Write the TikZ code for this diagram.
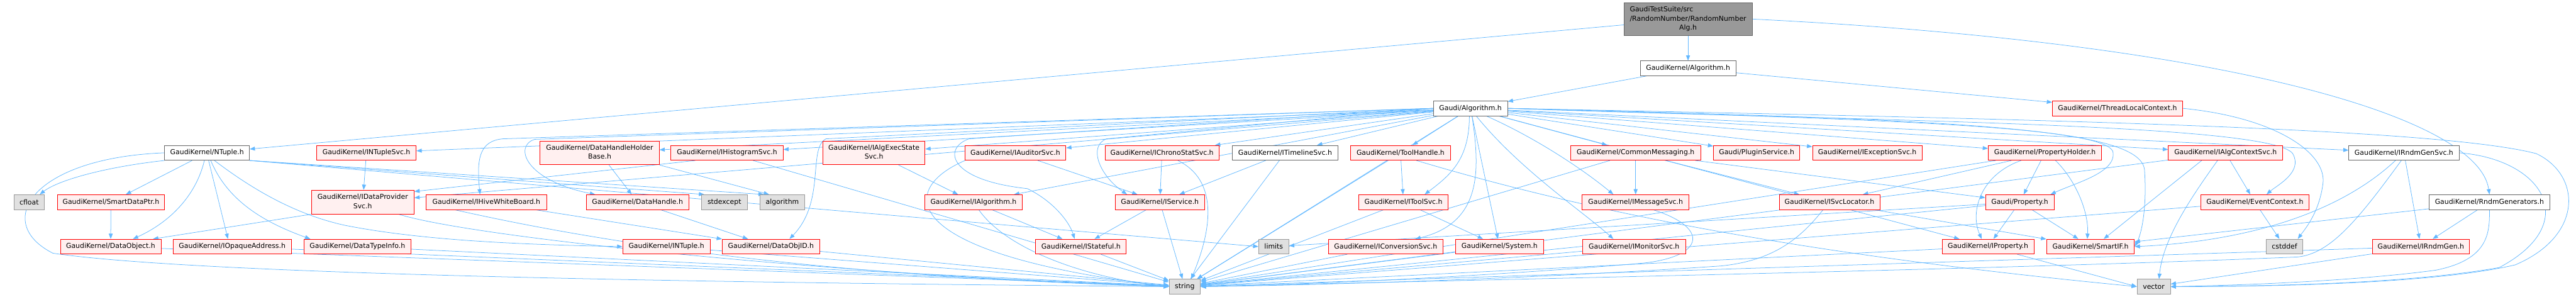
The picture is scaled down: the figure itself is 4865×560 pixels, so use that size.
\documentclass[tikz,border=0pt]{standalone}
\usepackage{fontspec}
\setmainfont{DejaVu Sans}
\usetikzlibrary{arrows.meta}
\pgfdeclarelayer{bg}
\pgfsetlayers{bg,main}
\definecolor{edgec}{HTML}{63B8FF}
\definecolor{redb}{HTML}{FF0000}
\definecolor{redf}{HTML}{FFF0F0}
\definecolor{grayb}{HTML}{999999}
\definecolor{grayf}{HTML}{E0E0E0}
\definecolor{darkb}{HTML}{666666}
\definecolor{topf}{HTML}{999999}
\newcommand\twol[2]{\begin{tabular}{@{}l@{}}#1\\\multicolumn{1}{@{}c@{}}{#2}\end{tabular}}
\newcommand\threel[3]{\begin{tabular}{@{}l@{}}#1\\#2\\\multicolumn{1}{@{}c@{}}{#3}\end{tabular}}
\tikzset{
 nd/.style={draw, line width=0.9pt, inner sep=0pt, minimum height=28pt, font=\fontsize{12.94}{17}\selectfont},
 rn/.style={nd, draw=redb, fill=redf},
 wn/.style={nd, draw=darkb, fill=white},
 gn/.style={nd, draw=grayb, fill=grayf},
 tn/.style={nd, draw=darkb, fill=topf},
 ed/.style={draw=edgec, line width=0.9pt, -{Triangle[length=10pt,width=7.5pt]}},
}
\begin{document}
\begin{tikzpicture}[x=1pt,y=-1pt]
\useasboundingbox (0,0) rectangle (4865,560);
% ---- nodes
\node[tn, minimum width=242pt, minimum height=62pt] (top) at (3188,36) {\threel{GaudiTestSuite/src}{/RandomNumber/RandomNumber}{Alg.h}};
\node[wn, minimum width=180pt] (kalg) at (3188,129) {GaudiKernel/Algorithm.h};
\node[wn, minimum width=140pt] (galg) at (2777,204.5) {Gaudi/Algorithm.h};
\node[rn, minimum width=246pt] (tlc) at (3999,204.5) {GaudiKernel/ThreadLocalContext.h};
% row 1
\node[wn, minimum width=160pt] (ntuple) at (391,288.5) {GaudiKernel/NTuple.h};
\node[rn, minimum width=188pt] (intuplesvc) at (692,288.5) {GaudiKernel/INTupleSvc.h};
\node[rn, minimum width=225pt, minimum height=45pt] (dhhb) at (1132.5,288.5) {\twol{GaudiKernel/DataHandleHolder}{Base.h}};
\node[rn, minimum width=212pt] (ihistsvc) at (1373,288.5) {GaudiKernel/IHistogramSvc.h};
\node[rn, minimum width=193pt, minimum height=45pt] (ialgexec) at (1650.5,288.5) {\twol{GaudiKernel/IAlgExecState}{Svc.h}};
\node[rn, minimum width=191pt] (iauditor) at (1917.5,288.5) {GaudiKernel/IAuditorSvc.h};
\node[rn, minimum width=215pt] (ichrono) at (2194.5,288.5) {GaudiKernel/IChronoStatSvc.h};
\node[wn, minimum width=200pt] (itimeline) at (2427,288.5) {GaudiKernel/ITimelineSvc.h};
\node[rn, minimum width=188pt] (toolhandle) at (2645,288.5) {GaudiKernel/ToolHandle.h};
\node[rn, minimum width=246pt] (commonmsg) at (3089,288.5) {GaudiKernel/CommonMessaging.h};
\node[rn, minimum width=163pt] (plugin) at (3317.5,288.5) {Gaudi/PluginService.h};
\node[rn, minimum width=207pt] (iexception) at (3526.5,288.5) {GaudiKernel/IExceptionSvc.h};
\node[rn, minimum width=214pt] (propholder) at (3862,288.5) {GaudiKernel/PropertyHolder.h};
\node[rn, minimum width=216pt] (ialgctx) at (4203,288.5) {GaudiKernel/IAlgContextSvc.h};
\node[wn, minimum width=208pt] (irndmgensvc) at (4540,288.5) {GaudiKernel/IRndmGenSvc.h};
% row 2
\node[gn, minimum width=58pt] (cfloat) at (55,381.5) {cfloat};
\node[rn, minimum width=203pt] (smartdataptr) at (209.5,381.5) {GaudiKernel/SmartDataPtr.h};
\node[rn, minimum width=194pt, minimum height=45pt] (idataprov) at (685,381.5) {\twol{GaudiKernel/IDataProvider}{Svc.h}};
\node[rn, minimum width=227pt] (ihive) at (918.5,381.5) {GaudiKernel/IHiveWhiteBoard.h};
\node[rn, minimum width=194pt] (datahandle) at (1204,381.5) {GaudiKernel/DataHandle.h};
\node[gn, minimum width=86pt] (stdexcept) at (1368,381.5) {stdexcept};
\node[gn, minimum width=85pt] (algorithm) at (1477.5,381.5) {algorithm};
\node[rn, minimum width=185pt] (ialgorithm) at (1838.5,381.5) {GaudiKernel/IAlgorithm.h};
\node[rn, minimum width=169pt] (iservice) at (2190.5,381.5) {GaudiKernel/IService.h};
\node[rn, minimum width=169pt] (itoolsvc) at (2650.5,381.5) {GaudiKernel/IToolSvc.h};
\node[rn, minimum width=202pt] (imessagesvc) at (3089,381.5) {GaudiKernel/IMessageSvc.h};
\node[rn, minimum width=190pt] (isvclocator) at (3455,381.5) {GaudiKernel/ISvcLocator.h};
\node[rn, minimum width=129pt] (property) at (3814.5,381.5) {Gaudi/Property.h};
\node[rn, minimum width=205pt] (eventcontext) at (4258.5,381.5) {GaudiKernel/EventContext.h};
\node[wn, minimum width=227pt] (rndmgens) at (4701.5,381.5) {GaudiKernel/RndmGenerators.h};
% row 3
\node[rn, minimum width=190pt] (dataobject) at (209,465.5) {GaudiKernel/DataObject.h};
\node[rn, minimum width=223pt] (iopaque) at (438.5,465.5) {GaudiKernel/IOpaqueAddress.h};
\node[rn, minimum width=202pt] (datatypeinfo) at (675,465.5) {GaudiKernel/DataTypeInfo.h};
\node[rn, minimum width=165pt] (intuple) at (1258.5,465.5) {GaudiKernel/INTuple.h};
\node[rn, minimum width=184pt] (dataobjid) at (1456,465.5) {GaudiKernel/DataObjID.h};
\node[rn, minimum width=171pt] (istateful) at (2041.5,465.5) {GaudiKernel/IStateful.h};
\node[gn, minimum width=57pt] (limits) at (2405.5,465.5) {limits};
\node[rn, minimum width=216pt] (iconversion) at (2617,465.5) {GaudiKernel/IConversionSvc.h};
\node[rn, minimum width=166pt] (system) at (2832,465.5) {GaudiKernel/System.h};
\node[rn, minimum width=194pt] (imonitor) at (3086,465.5) {GaudiKernel/IMonitorSvc.h};
\node[rn, minimum width=173pt] (iproperty) at (3754.5,465.5) {GaudiKernel/IProperty.h};
\node[rn, minimum width=166pt] (smartif) at (3948,465.5) {GaudiKernel/SmartIF.h};
\node[gn, minimum width=69pt] (cstddef) at (4314.5,465.5) {cstddef};
\node[rn, minimum width=184pt] (irndmgen) at (4572,465.5) {GaudiKernel/IRndmGen.h};
% row 4
\node[gn, minimum width=59pt] (string) at (2237.5,541) {string};
\node[gn, minimum width=63pt] (vector) at (4067.5,541) {vector};
% ---- edges
\begin{pgfonlayer}{bg}
\draw[ed] (top) -- (kalg);
\draw[ed] (top) -- (ntuple);
\draw[ed] (top.east) .. controls (4200,80) and (4680,220) .. (rndmgens.north);
\draw[ed] (kalg) -- (galg);
\draw[ed] (kalg) -- (tlc);
\draw[ed] (tlc.east) .. controls (4300,222) and (4395,290) .. (4387,347) .. controls (4380,400) and (4355,430) .. ([xshift=25pt]cstddef.north);
\foreach \t in {intuplesvc,dhhb,ihistsvc,ialgexec,iauditor,ichrono,itimeline,toolhandle,commonmsg,plugin,iexception,propholder,ialgctx,irndmgensvc}
  \draw[ed] (galg) -- (\t);
\draw[ed] (galg) -- (idataprov);
\draw[ed] (galg.west) -- (950,262) .. controls (905,266) and (900,300) .. ([xshift=-12pt]ihive.north);
\draw[ed] (galg.west) -- (1010,263) .. controls (970,275) and (990,340) .. ([xshift=-80pt]datahandle.north);
\draw[ed] (galg.west) -- (1560,262) .. controls (1525,280) and (1560,380) .. ([xshift=35pt]dataobjid.north);
\draw[ed] (galg) -- (ialgorithm);
\draw[ed] (galg.west) -- (2090,262) .. controls (2055,275) and (2075,330) .. ([xshift=-62pt]iservice.north);
\draw[ed] (galg.west) -- (1830,262) .. controls (1780,280) and (1790,340) .. (1940,356) .. controls (1990,380) and (2020,420) .. ([xshift=-12pt]istateful.north);
\draw[ed] ([xshift=-2pt]galg.south) .. controls (2775,300) and (2740,330) .. ([xshift=40pt]itoolsvc.north);
\draw[ed] ([xshift=3pt]galg.south) .. controls (2795,320) and (2800,420) .. ([xshift=56pt]iconversion.north);
\draw[ed] ([xshift=30pt]galg.south) .. controls (2900,260) and (2990,320) .. ([xshift=-42pt]imessagesvc.north);
\draw[ed] ([xshift=11pt]galg.south) .. controls (2870,320) and (2990,400) .. ([xshift=-39pt]imonitor.north);
\draw[ed] (galg.east) .. controls (3500,228) and (4290,232) .. (4330,290) .. controls (4350,325) and (4300,350) .. ([xshift=22pt]eventcontext.north);
\draw[ed] (galg.east) .. controls (3600,226) and (3965,240) .. (3990,285) .. controls (4000,325) and (3920,345) .. ([xshift=58pt]property.north);
\draw[ed] (galg.east) .. controls (3700,226) and (4040,240) .. (4050,320) .. controls (4055,390) and (4045,440) .. (smartif.east);
\draw[ed] (galg.east) .. controls (3800,224) and (4600,240) .. (4790,290) .. controls (4875,330) and (4880,445) .. (4750,500) .. controls (4600,535) and (4300,541) .. (vector.east);
\draw[ed] (galg) -- (iproperty);
\draw[ed] (galg) -- (system);
\draw[ed] (galg) -- (string);
% ntuple
\draw[ed] (ntuple.south west) .. controls (200,315) and (110,340) .. ([xshift=20pt]cfloat.north);
\draw[ed] (ntuple) -- (smartdataptr);
\draw[ed] ([xshift=-5pt]ntuple.south) .. controls (370,370) and (320,420) .. ([xshift=42pt]dataobject.north);
\draw[ed] ([xshift=3pt]ntuple.south) -- ([xshift=-8pt]iopaque.north);
\draw[ed] ([xshift=7pt]ntuple.south) .. controls (430,380) and (500,420) .. ([xshift=-89pt]datatypeinfo.north);
\draw[ed] ([xshift=14pt]ntuple.south) .. controls (480,360) and (560,405) .. (650,425) .. controls (800,455) and (1000,462) .. (intuple.west);
\draw[ed] (ntuple.south east) -- ([xshift=-38pt]stdexcept.north);
\draw[ed] (ntuple.south east) -- ([xshift=-35pt]algorithm.north);
\draw[ed] (ntuple.south east) -- (limits.west);
\draw[ed] (ntuple.west) .. controls (60,298) and (-15,420) .. (100,478) .. controls (400,522) and (1500,535) .. (string.west);
% left part
\draw[ed] (smartdataptr) -- (dataobject);
\draw[ed] (intuplesvc) -- (idataprov);
\draw[ed] (idataprov.south west) -- ([xshift=80pt]dataobject.north);
\draw[ed] ([xshift=68pt]idataprov.south) .. controls (900,450) and (1600,520) .. (string.west);
\draw[ed] (dataobject) -- (string);
\draw[ed] (iopaque) -- (string);
\draw[ed] (datatypeinfo) -- (string);
\draw[ed] (intuple) -- (string);
\draw[ed] (dataobjid) -- (string);
\draw[ed] (ihive) -- (dataobjid);
\draw[ed] ([xshift=-60pt]ihive.south) .. controls (1100,450) and (1500,520) .. (string.west);
\draw[ed] (datahandle) -- (dataobjid);
\draw[ed] (dhhb) -- (datahandle);
\draw[ed] (dhhb.south east) -- ([xshift=-25pt]algorithm.north);
\draw[ed] ([xshift=-60pt]ihistsvc.south) -- ([yshift=20pt]idataprov.east);
\draw[ed] (ihistsvc) -- (string);
\draw[ed] (ialgexec) -- (ialgorithm);
% middle
\draw[ed] (iauditor) -- (iservice);
\draw[ed] ([xshift=-95pt]iauditor.south) .. controls (1690,360) and (1700,480) .. (string.west);
\draw[ed] (ichrono) -- (iservice);
\draw[ed] ([xshift=30pt]ichrono.south) .. controls (2300,340) and (2290,430) .. ([xshift=12pt]string.north);
\draw[ed] (itimeline) -- (iservice);
\draw[ed] (itimeline) -- (string);
\draw[ed] (ialgorithm) -- (istateful);
\draw[ed] ([xshift=10pt]ialgorithm.south) .. controls (1900,470) and (2050,525) .. (string.west);
\draw[ed] (iservice) -- (istateful);
\draw[ed] (iservice) -- (string);
\draw[ed] (istateful) -- (string);
\draw[ed] (toolhandle) -- (itoolsvc);
\draw[ed] (toolhandle) -- (string);
\draw[ed] ([xshift=30pt]toolhandle.south) .. controls (3000,400) and (3400,480) .. (vector.west);
\draw[ed] (itoolsvc) -- (system);
\draw[ed] (itoolsvc) -- (string);
\draw[ed] (commonmsg) -- (imessagesvc);
\draw[ed] (commonmsg) -- (isvclocator);
\draw[ed] (commonmsg) -- (property);
\draw[ed] (commonmsg) -- (string);
\draw[ed] ([xshift=33pt]imessagesvc.south) .. controls (3230,430) and (3220,485) .. (3100,497) .. controls (2800,522) and (2500,536) .. (string.east);
\draw[ed] (iconversion) -- (string);
\draw[ed] (system) -- (string);
\draw[ed] (imonitor) -- (string);
% right part
\draw[ed] (propholder) -- (property);
\draw[ed] ([xshift=-45pt]propholder.south) .. controls (3740,330) and (3720,400) .. ([xshift=-12pt]iproperty.north);
\draw[ed] ([xshift=20pt]propholder.south) .. controls (3920,340) and (3945,400) .. ([xshift=-6pt]smartif.north);
\draw[ed] (propholder) -- (isvclocator);
\draw[ed] (propholder) -- (string);
\draw[ed] (property) -- (iproperty);
\draw[ed] (property) -- (smartif);
\draw[ed] (property) -- (string);
\draw[ed] (property) -- (limits);
\draw[ed] (isvclocator) -- (smartif);
\draw[ed] ([xshift=-12pt]isvclocator.south) .. controls (3400,450) and (3350,492) .. (3250,502) .. controls (2900,526) and (2500,538) .. (string.east);
\draw[ed] (iproperty) -- (string);
\draw[ed] ([xshift=55pt]iproperty.south) -- (vector.west);
\draw[ed] (ialgctx) -- (eventcontext);
\draw[ed] ([xshift=-45pt]ialgctx.south) -- ([xshift=25pt]smartif.north);
\draw[ed] ([xshift=-15pt]ialgctx.south) .. controls (4140,370) and (4085,450) .. ([xshift=10pt]vector.north);
\draw[ed] (ialgctx) -- (string);
\draw[ed] (eventcontext) -- (cstddef);
\draw[ed] (eventcontext) -- (string);
\draw[ed] (irndmgensvc) -- (irndmgen);
\draw[ed] ([xshift=-16pt]irndmgensvc.south) .. controls (4420,400) and (4250,455) .. (smartif.east);
\draw[ed] ([xshift=-5pt]irndmgensvc.south) .. controls (4450,420) and (4400,478) .. (4340,485) .. controls (3800,508) and (2800,528) .. (string.east);
\draw[ed] (irndmgensvc.east) .. controls (4800,300) and (4880,420) .. (4720,505) .. controls (4550,535) and (4300,540) .. (vector.east);
\draw[ed] (rndmgens) -- (irndmgen);
\draw[ed] (rndmgens) -- (smartif);
\draw[ed] (rndmgens.south) .. controls (4702,440) and (4700,490) .. (4600,510) .. controls (4450,530) and (4250,538) .. (vector.east);
\draw[ed] (irndmgen) -- (vector);
\draw[ed] (irndmgen) -- (string);
\end{pgfonlayer}
\end{tikzpicture}
\end{document}
